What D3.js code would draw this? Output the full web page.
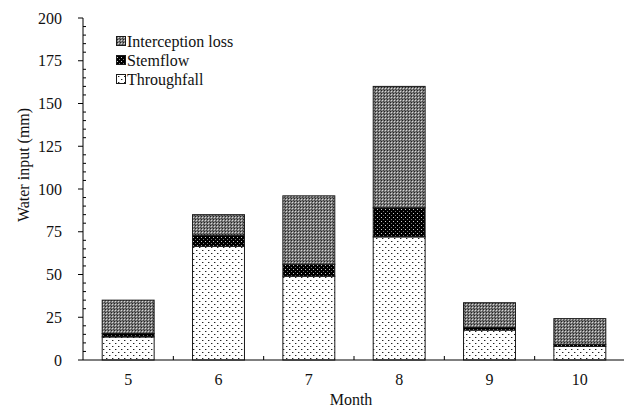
<!DOCTYPE html>
<html><head><meta charset="utf-8">
<script src="https://cdn.jsdelivr.net/npm/d3@7"></script>
<style>body{margin:0;background:#fff}svg{display:block}text{font-family:"Liberation Serif","Times New Roman",serif;fill:#111}</style>
</head><body>
<svg id="c" width="624" height="409"></svg>
<script>
const months = ["5","6","7","8","9","10"];
const throughfall = [13.5, 66.5, 49, 72, 17.5, 8];
const stemflow = [2, 6.5, 7, 17, 1.5, 1.2];
const interception = [19.5, 12, 40, 71, 14.5, 15];
const seriesNames = ["Throughfall","Stemflow","Interception loss"];
const yTicks = [0,25,50,75,100,125,150,175,200];

const svg = d3.select("#c");
const m = {l:83, r:625, t:18, b:360};
const x = d3.scaleBand().domain(months).range([m.l, m.r]).paddingInner(0.425).paddingOuter(0.2125);
const y = d3.scaleLinear().domain([0,200]).range([m.b, m.t]);

const defs = svg.append("defs");
// throughfall pattern
let p = defs.append("pattern").attr("id","pT").attr("patternUnits","userSpaceOnUse").attr("width",6).attr("height",6);
p.append("rect").attr("width",6).attr("height",6).attr("fill","#fff");
p.append("rect").attr("x",1).attr("y",1).attr("width",1).attr("height",1).attr("fill","#222");
p.append("rect").attr("x",4).attr("y",4).attr("width",1).attr("height",1).attr("fill","#222");
p.append("rect").attr("x",2).attr("y",1).attr("width",1).attr("height",1).attr("fill","#aaa");
p.append("rect").attr("x",5).attr("y",4).attr("width",1).attr("height",1).attr("fill","#aaa");
// stemflow pattern
p = defs.append("pattern").attr("id","pS").attr("patternUnits","userSpaceOnUse").attr("width",4).attr("height",4);
p.append("rect").attr("width",4).attr("height",4).attr("fill","#000");
p.append("rect").attr("x",1).attr("y",1).attr("width",1).attr("height",1).attr("fill","#ccc");
p.append("rect").attr("x",3).attr("y",3).attr("width",1).attr("height",1).attr("fill","#777");
// interception pattern
p = defs.append("pattern").attr("id","pI").attr("patternUnits","userSpaceOnUse").attr("width",3).attr("height",3);
p.append("rect").attr("width",3).attr("height",3).attr("fill","#7c7c7c");
p.append("rect").attr("x",0).attr("y",0).attr("width",1).attr("height",1).attr("fill","#222");
p.append("rect").attr("x",1).attr("y",1).attr("width",1).attr("height",1).attr("fill","#d8d8d8");
p.append("rect").attr("x",2).attr("y",2).attr("width",1).attr("height",1).attr("fill","#444");
const fills = ["url(#pT)","url(#pS)","url(#pI)"];

const data = months.map((mo,i)=>({month:mo, Throughfall:throughfall[i], Stemflow:stemflow[i], "Interception loss":interception[i]}));
const stack = d3.stack().keys(seriesNames)(data);

svg.append("g").selectAll("g").data(stack).join("g")
  .attr("fill",(d,i)=>fills[i])
  .selectAll("rect").data(d=>d).join("rect")
  .attr("x",d=>x(d.data.month)).attr("width",x.bandwidth())
  .attr("y",d=>y(d[1])).attr("height",d=>y(d[0])-y(d[1]))
  .attr("stroke","#1a1a1a").attr("stroke-width",1);

// Y axis
const yg = svg.append("g").attr("transform",`translate(${m.l},0)`);
yg.append("line").attr("y1",y(0)).attr("y2",y(200)).attr("stroke","#000");
const minor = d3.range(0,201,5).filter(v=>v%25!==0);
yg.selectAll(".mn").data(minor).join("line").attr("x1",0).attr("x2",3).attr("y1",d=>y(d)).attr("y2",d=>y(d)).attr("stroke","#000");
yg.selectAll(".mj").data(yTicks).join("line").attr("x1",-5).attr("x2",0).attr("y1",d=>y(d)).attr("y2",d=>y(d)).attr("stroke","#000");
yg.selectAll("text").data(yTicks).join("text").attr("x",-21).attr("y",d=>y(d)).attr("dy","0.35em").attr("text-anchor","end").attr("font-size",16).text(d=>d);

// X axis
const xg = svg.append("g");
xg.append("line").attr("x1",m.l).attr("x2",m.r).attr("y1",y(0)).attr("y2",y(0)).attr("stroke","#000");
const bounds = months.slice(1).map(mo=>x(mo)-x.step()*x.paddingInner()/2);
xg.selectAll(".bt").data(bounds).join("line").attr("x1",d=>d).attr("x2",d=>d).attr("y1",y(0)).attr("y2",y(0)-4).attr("stroke","#000");
xg.selectAll("text").data(months).join("text").attr("x",d=>x(d)+x.bandwidth()/2).attr("y",385).attr("text-anchor","middle").attr("font-size",16).text(d=>d);

svg.append("text").attr("x",351).attr("y",405).attr("text-anchor","middle").attr("font-size",16).text("Month");
svg.append("text").attr("transform","translate(29,165) rotate(-90)").attr("text-anchor","middle").attr("font-size",16).text("Water input (mm)");

// Legend
const leg = ["Interception loss","Stemflow","Throughfall"];
const lfill = [fills[2],fills[1],fills[0]];
const lg = svg.append("g");
leg.forEach((t,i)=>{
  const yy = 41 + i*19;
  lg.append("rect").attr("x",116.5).attr("y",yy-4.5).attr("width",9).attr("height",9).attr("fill",lfill[i]).attr("stroke","#1a1a1a");
  lg.append("text").attr("x",127).attr("y",yy).attr("dy","0.35em").attr("font-size",16).text(t);
});
</script>
</body></html>
